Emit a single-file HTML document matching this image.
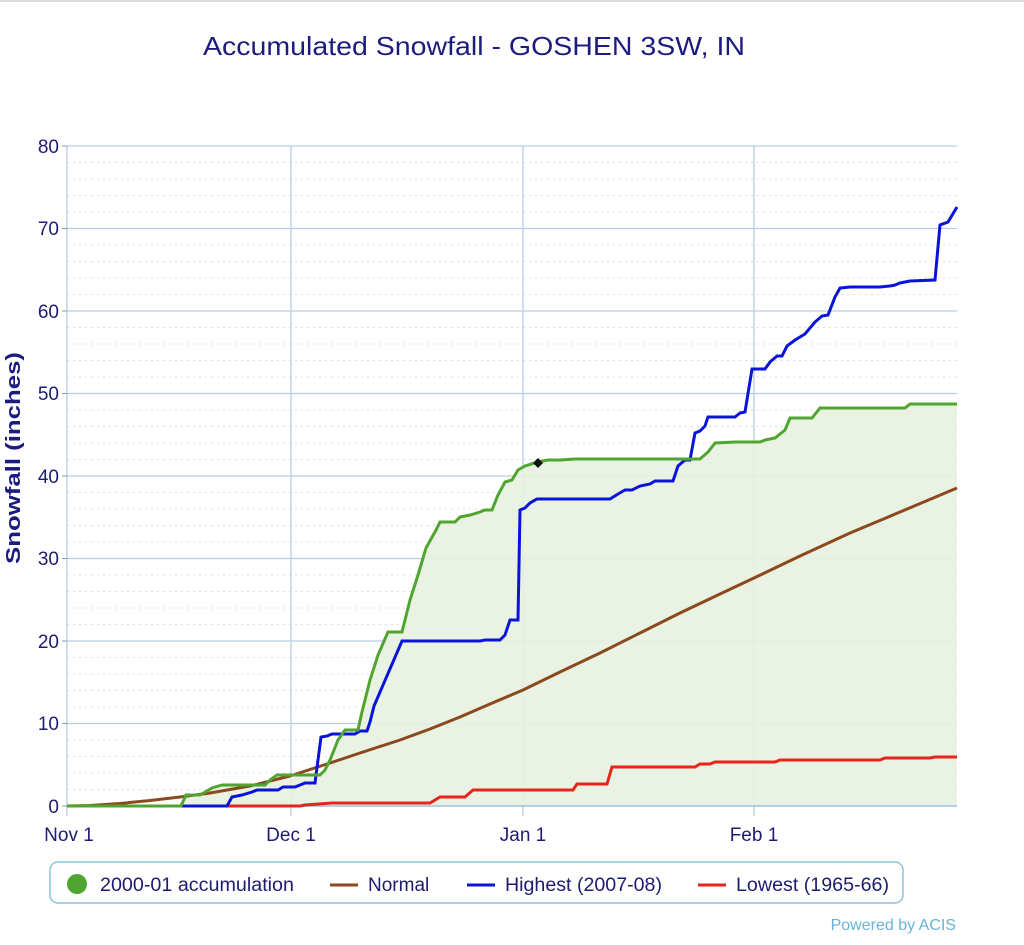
<!DOCTYPE html>
<html><head><meta charset="utf-8"><style>
html,body{margin:0;padding:0;background:#fff;}
svg{display:block;font-family:"Liberation Sans",Arial,sans-serif;}
</style></head><body>
<svg width="1024" height="945" viewBox="0 0 1024 945">
<rect width="1024" height="945" fill="#fff"/>
<line x1="0" y1="1" x2="1024" y2="1" stroke="#ddd" stroke-width="2"/>
<text x="474" y="55" font-size="26" fill="#1c1c80" text-anchor="middle" textLength="542" lengthAdjust="spacingAndGlyphs">Accumulated Snowfall - GOSHEN 3SW, IN</text>
<g stroke="#d8dde8" stroke-width="1" stroke-dasharray="2,4">
<line x1="67" x2="957" y1="162.5" y2="162.5"/><line x1="67" x2="957" y1="179" y2="179"/><line x1="67" x2="957" y1="195.5" y2="195.5"/><line x1="67" x2="957" y1="212" y2="212"/>
<line x1="67" x2="957" y1="245" y2="245"/><line x1="67" x2="957" y1="261.5" y2="261.5"/><line x1="67" x2="957" y1="278" y2="278"/><line x1="67" x2="957" y1="294.5" y2="294.5"/>
<line x1="67" x2="957" y1="327.5" y2="327.5"/><line x1="67" x2="957" y1="344" y2="344"/><line x1="67" x2="957" y1="360.5" y2="360.5"/><line x1="67" x2="957" y1="377" y2="377"/>
<line x1="67" x2="957" y1="410" y2="410"/><line x1="67" x2="957" y1="426.5" y2="426.5"/><line x1="67" x2="957" y1="443" y2="443"/><line x1="67" x2="957" y1="459.5" y2="459.5"/>
<line x1="67" x2="957" y1="492.5" y2="492.5"/><line x1="67" x2="957" y1="509" y2="509"/><line x1="67" x2="957" y1="525.5" y2="525.5"/><line x1="67" x2="957" y1="542" y2="542"/>
<line x1="67" x2="957" y1="575" y2="575"/><line x1="67" x2="957" y1="591.5" y2="591.5"/><line x1="67" x2="957" y1="608" y2="608"/><line x1="67" x2="957" y1="624.5" y2="624.5"/>
<line x1="67" x2="957" y1="657.5" y2="657.5"/><line x1="67" x2="957" y1="674" y2="674"/><line x1="67" x2="957" y1="690.5" y2="690.5"/><line x1="67" x2="957" y1="707" y2="707"/>
<line x1="67" x2="957" y1="740" y2="740"/><line x1="67" x2="957" y1="756.5" y2="756.5"/><line x1="67" x2="957" y1="773" y2="773"/><line x1="67" x2="957" y1="789.5" y2="789.5"/>
</g>
<g stroke="#b9cde3" stroke-width="1.3">
<line x1="67" x2="957" y1="146" y2="146"/><line x1="67" x2="957" y1="228.5" y2="228.5"/><line x1="67" x2="957" y1="311" y2="311"/><line x1="67" x2="957" y1="393.5" y2="393.5"/>
<line x1="67" x2="957" y1="476" y2="476"/><line x1="67" x2="957" y1="558.5" y2="558.5"/><line x1="67" x2="957" y1="641" y2="641"/><line x1="67" x2="957" y1="723.5" y2="723.5"/>
<line x1="67" x2="67" y1="146" y2="816"/><line x1="291" x2="291" y1="146" y2="816"/><line x1="523" x2="523" y1="146" y2="816"/><line x1="754" x2="754" y1="146" y2="816"/>
</g>
<g stroke="#8a9ab0" stroke-width="1">
<line x1="62" x2="67" y1="146" y2="146"/><line x1="62" x2="67" y1="228.5" y2="228.5"/><line x1="62" x2="67" y1="311" y2="311"/><line x1="62" x2="67" y1="393.5" y2="393.5"/><line x1="62" x2="67" y1="476" y2="476"/><line x1="62" x2="67" y1="558.5" y2="558.5"/><line x1="62" x2="67" y1="641" y2="641"/><line x1="62" x2="67" y1="723.5" y2="723.5"/><line x1="62" x2="67" y1="806" y2="806"/>
</g>
<path d="M67,806 L181,806 L186,795 L200,795 L212,788 L222,785 L265,785 L270,780 L277,775 L320,775 L325,770 L330,760 L338,740 L345,730 L358,730 L362,712 L370,680 L378,655 L388,632 L402,632 L410,600 L418,575 L426,548 L436,530 L440,522 L455,522 L460,517 L470,515 L480,512 L485,510 L492,510 L498,495 L505,482 L512,480 L518,470 L525,466 L538,462 L548,460 L560,460 L575,459 L700,459 L708,452 L715,443 L735,442 L760,442 L765,440 L775,438 L785,430 L790,418 L812,418 L820,408 L905,408 L910,404 L957,404 L957,806 Z" fill="#e8f1e0" opacity="0.9"/>
<line x1="67" x2="957" y1="806" y2="806" stroke="#9cc2dc" stroke-width="1.5"/>
<polyline fill="none" stroke="#8b4a1e" stroke-width="3" stroke-linejoin="round" points="67,806 90,805.5 120,803.5 150,800.5 180,797 210,793 250,786 290,776 330,763 360,753 400,740 430,729 460,717 490,704 523,690 560,672 600,653 640,633 680,613 720,594 754,578 800,556 850,533 900,512 957,488"/>
<polyline fill="none" stroke="#e8251b" stroke-width="3" points="67,806 300,806 305,805 332,803 430,803 440,797 465,797 473,790 525,790 573,790 577,784 607,784 612,767 695,767 700,764 710,764 715,762 775,762 780,760 880,760 885,758 930,758 935,757 957,757"/>
<polyline fill="none" stroke="#0a14d8" stroke-width="3" points="67,806 227,806 232,797 242,795 252,792 257,790 278,790 283,787 295,787 305,783 315,783 321,737 327,736 332,734 355,734 360,731 367,731 370,722 374,706 402,641 480,641 485,640 500,640 505,635 510,620 518,620 520,510 525,508 530,503 537,499 610,499 618,494 625,490 632,490 640,486 650,484 655,481 673,481 678,466 685,460 690,460 695,433 700,431 705,426 708,417 735,417 740,413 745,412 752,369 765,369 770,362 777,356 782,356 787,346 795,340 805,334 815,322 822,316 828,315 835,297 840,288 850,287 880,287 890,286 895,285 900,283 910,281 935,280 940,225 948,222 957,207"/>
<polyline fill="none" stroke="#4fa52f" stroke-width="3" points="67,806 181,806 186,795 200,795 212,788 222,785 265,785 270,780 277,775 320,775 325,770 330,760 338,740 345,730 358,730 362,712 370,680 378,655 388,632 402,632 410,600 418,575 426,548 436,530 440,522 455,522 460,517 470,515 480,512 485,510 492,510 498,495 505,482 512,480 518,470 525,466 538,462 548,460 560,460 575,459 700,459 708,452 715,443 735,442 760,442 765,440 775,438 785,430 790,418 812,418 820,408 905,408 910,404 957,404"/>
<path d="M538,458 L543,463 L538,468 L533,463 Z" fill="#111"/>
<g font-size="19" fill="#1c1c70" text-anchor="end">
<text x="59" y="153">80</text><text x="59" y="235">70</text><text x="59" y="318">60</text><text x="59" y="400">50</text><text x="59" y="483">40</text><text x="59" y="565">30</text><text x="59" y="648">20</text><text x="59" y="730">10</text><text x="59" y="813">0</text>
</g>
<g font-size="19" fill="#1c1c70" text-anchor="middle">
<text x="69" y="841">Nov 1</text><text x="291" y="841">Dec 1</text><text x="523" y="841">Jan 1</text><text x="754" y="841">Feb 1</text>
</g>
<text transform="translate(20,458) rotate(-90)" font-size="20" font-weight="bold" fill="#1c1c80" text-anchor="middle" textLength="212" lengthAdjust="spacingAndGlyphs">Snowfall (inches)</text>
<rect x="50" y="862" width="853" height="41" rx="8" fill="#fff" stroke="#8cc4e0" stroke-width="1.5"/>
<circle cx="77" cy="884" r="10" fill="#4fa52f"/>
<g font-size="19" fill="#1c1c70">
<text x="100" y="891" textLength="194" lengthAdjust="spacingAndGlyphs">2000-01 accumulation</text>
<text x="368" y="891">Normal</text>
<text x="505" y="891" textLength="157" lengthAdjust="spacingAndGlyphs">Highest (2007-08)</text>
<text x="736" y="891" textLength="153" lengthAdjust="spacingAndGlyphs">Lowest (1965-66)</text>
</g>
<line x1="330" x2="358" y1="885" y2="885" stroke="#8b4a1e" stroke-width="3"/>
<line x1="467" x2="495" y1="885" y2="885" stroke="#0a14d8" stroke-width="3"/>
<line x1="698" x2="726" y1="885" y2="885" stroke="#e8251b" stroke-width="3"/>
<text x="956" y="930" font-size="16" fill="#6ab2d8" text-anchor="end">Powered by ACIS</text>
</svg>
</body></html>
